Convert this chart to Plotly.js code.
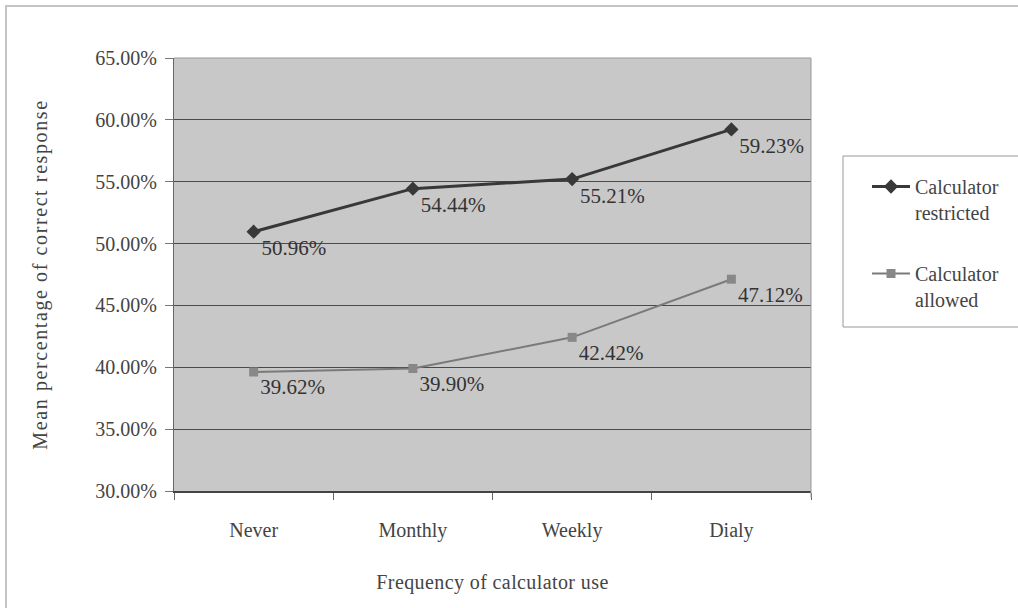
<!DOCTYPE html>
<html>
<head>
<meta charset="utf-8">
<script src="https://cdn.plot.ly/plotly-3.0.1.min.js"></script>
<style>
html,body{margin:0;padding:0;background:#fff;}
#frame{position:absolute;left:5px;top:5px;width:1013px;height:603px;border-top:2px solid #c4c4c4;border-left:2px solid #c4c4c4;box-sizing:border-box;pointer-events:none;z-index:5;}
#chart{position:absolute;left:0;top:0;width:1018px;height:608px;}
#chart .ytitle{letter-spacing:1.6px;}
#chart .xtitle{letter-spacing:0.4px;}
</style>
</head>
<body>
<div id="chart"></div>
<div id="frame"></div>
<script>
const categories = ["Never", "Monthly", "Weekly", "Dialy"];
const restricted = [0.5096, 0.5444, 0.5521, 0.5923];
const allowed = [0.3962, 0.3990, 0.4242, 0.4712];
const seriesNames = ["Calculator<br>restricted", "Calculator<br>allowed"];
const yTicks = [0.30, 0.35, 0.40, 0.45, 0.50, 0.55, 0.60, 0.65];

const font = "Liberation Serif";

const traces = [
  {
    x: categories, y: restricted, name: seriesNames[0], type: "scatter",
    mode: "lines+markers+text",
    line: {color: "#383838", width: 3},
    marker: {symbol: "diamond", size: 11, color: "#383838"},
    texttemplate: "%{y:.2%}", textposition: "bottom right",
    textfont: {family: font, size: 21, color: "#333"},
    legendgroup: "a", cliponaxis: false
  },
  {
    x: categories, y: allowed, name: seriesNames[1], type: "scatter",
    mode: "lines+markers+text",
    line: {color: "#7a7a7a", width: 2},
    marker: {symbol: "square", size: 9, color: "#888"},
    texttemplate: "%{y:.2%}", textposition: "bottom right",
    textfont: {family: font, size: 21, color: "#333"},
    legendgroup: "b", cliponaxis: false
  }
];

const layout = {
  width: 1018, height: 608,
  margin: {l: 174, r: 207, t: 58, b: 117},
  paper_bgcolor: "#ffffff",
  plot_bgcolor: "#c8c8c8",
  font: {family: font, size: 19, color: "#333"},
  showlegend: true,
  legend: {
    x: (867 - 174) / 637, xanchor: "left", y: (491 - 167) / 433, yanchor: "top",
    borderwidth: 0, bgcolor: "rgba(0,0,0,0)",
    font: {family: font, size: 20, color: "#444"},
    traceorder: "grouped", tracegroupgap: 32, valign: "top",
    itemwidth: 38
  },
  xaxis: {
    type: "category", range: [-0.5, 3.5],
    showgrid: false, showline: true, linecolor: "#444", linewidth: 1.5,
    ticks: "outside", tickson: "boundaries", ticklen: 7, tickcolor: "#666",
    ticklabelstandoff: 20,
    tickfont: {family: font, size: 20, color: "#444"},
    title: {text: "Frequency of calculator use", font: {family: font, size: 20, color: "#444"}, standoff: 34},
    mirror: false, zeroline: false
  },
  yaxis: {
    range: [0.30, 0.65], tickvals: yTicks, tickformat: ".2%",
    showgrid: true, gridcolor: "#4a4a4a", gridwidth: 1,
    showline: true, linecolor: "#666", linewidth: 1,
    ticks: "outside", ticklen: 8, tickcolor: "#777",
    ticklabelstandoff: 4,
    tickfont: {family: font, size: 20, color: "#444"},
    title: {text: "Mean percentage of correct response", font: {family: font, size: 20, color: "#444"}, standoff: 42},
    zeroline: false
  },
  shapes: [
    {type: "line", xref: "paper", yref: "paper", x0: 1, x1: 1, y0: -0.015, y1: 1, line: {color: "#999", width: 1}},
    {type: "line", xref: "paper", yref: "paper", x0: 0, x1: 1, y0: 1, y1: 1, line: {color: "#999", width: 1}},
    {type: "rect", xref: "paper", yref: "paper",
     x0: (843 - 174) / 637, x1: (1030 - 174) / 637,
     y0: (491 - 327) / 433, y1: (491 - 156) / 433,
     line: {color: "#999", width: 1}, fillcolor: "rgba(0,0,0,0)", layer: "above"}
  ]
};

Plotly.newPlot("chart", traces, layout, {displayModeBar: false, staticPlot: true});
</script>
</body>
</html>
